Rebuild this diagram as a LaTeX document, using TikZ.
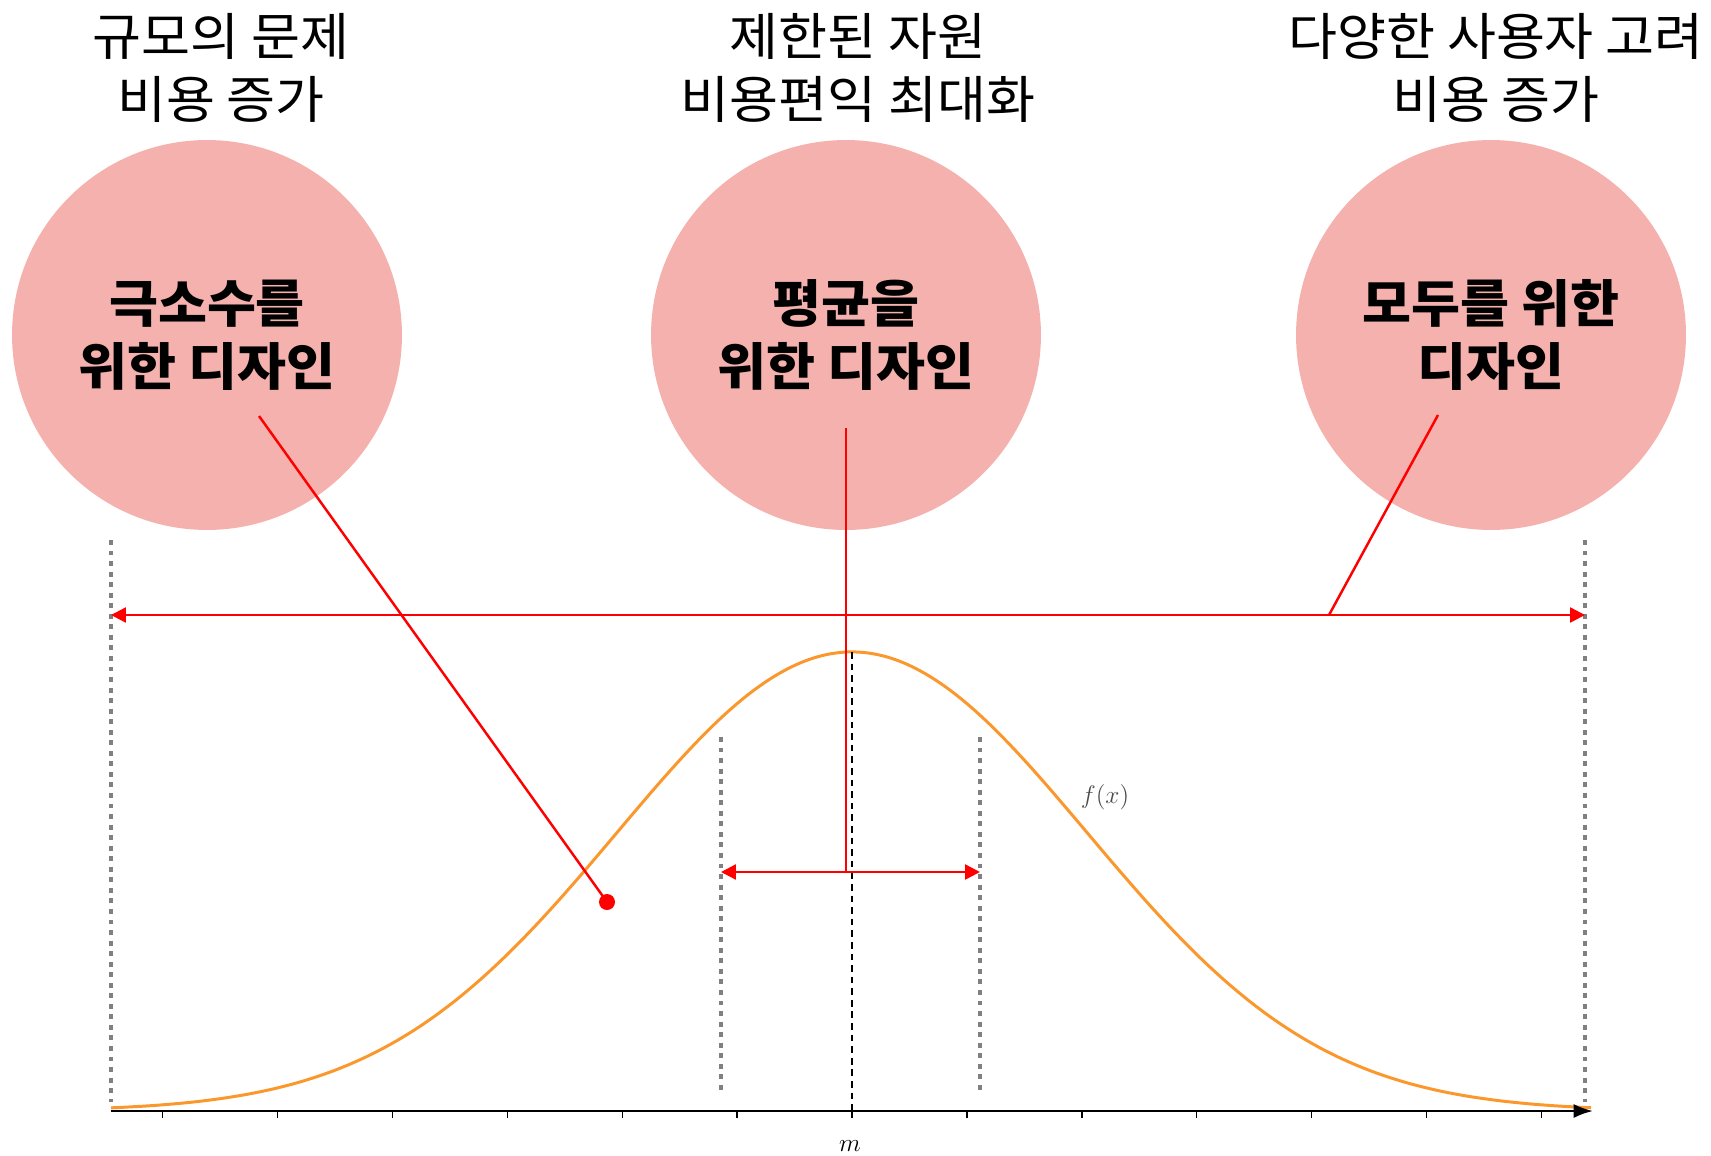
\documentclass[tikz,border=0pt]{standalone}
\usepackage{fontspec}
\usepackage{tikz}
\usetikzlibrary{arrows.meta}
\newfontfamily\krfont[FakeStretch=1.045]{Noto Sans CJK KR}
\definecolor{circpink}{RGB}{245,177,173}
\definecolor{curveorange}{RGB}{250,152,45}
\definecolor{dotgray}{RGB}{128,128,128}

\begin{document}
\begin{tikzpicture}[x=0.02cm, y=-0.02cm]
        \tikzset{
          DesignCircle/.style = {circle, fill=circpink, minimum size=7.8cm, inner sep=0pt,
                                 align=center, font=\krfont\bfseries\fontsize{29}{36}\selectfont},
          CostNote/.style = {align=center, font=\krfont\fontsize{29}{36}\selectfont},
          RangeEdge/.style = {dotgray, line width=2.8pt, dash pattern=on 2.8pt off 3.2pt},
          RedLine/.style = {red, line width=1.4pt},
          RedRange/.style = {RedLine, {Triangle[length=8.5pt,width=8.5pt]}-{Triangle[length=8.5pt,width=8.5pt]}}
        }
        \useasboundingbox (0,0) rectangle (1711,1156);
        \node[CostNote] (noteMin) at (221,68) {규모의 문제\\비용 증가};
        \node[CostNote] (noteAvg) at (858,68) {제한된 자원\\비용편익 최대화};
        \node[CostNote] (noteAll) at (1496,68) {다양한 사용자 고려\\비용 증가};
        \node[DesignCircle] (circMin) at (207,335) {극소수를\\위한 디자인};
        \node[DesignCircle] (circAvg) at (846,335) {평균을\\위한 디자인};
        \node[DesignCircle] (circAll) at (1491,335) {모두를 위한\\디자인};
        % normal curve and axis
        \coordinate (axL) at (111,1111);
        \coordinate (axR) at (1593,1111);
        \draw[curveorange, line width=1.7pt] plot[domain=111:1591, samples=200, smooth]
          (\x, {1111-459*exp(-0.5*((\x-852)/235)^2)});
        \draw[line width=1.4pt, -{Latex[length=11pt,width=8pt]}] (axL) -- (axR);
        \foreach \k in {-6,...,6}
          \draw[line width=0.8pt] (852+\k*114.9,1111) -- ++(0,7);
        \coordinate (peak) at (852,652);
        \coordinate (mBase) at (852,1111);
        \draw[line width=0.9pt, dash pattern=on 3.8pt off 2.8pt] (peak) -- (mBase);
        \node[font=\fontsize{15}{18}\selectfont] (mLabel) at (850,1146) {$m$};
        \node[font=\fontsize{15}{18}\selectfont, text=black!70] (fLabel) at (1105,797) {$f(x)$};
        % range limits
        \coordinate (outLt) at (111,540);  \coordinate (outLb) at (111,1102);
        \coordinate (outRt) at (1585,540); \coordinate (outRb) at (1585,1102);
        \coordinate (inLt) at (721,737);   \coordinate (inLb) at (721,1091);
        \coordinate (inRt) at (980,737);   \coordinate (inRb) at (980,1091);
        \draw[RangeEdge] (outLt) -- (outLb);
        \draw[RangeEdge] (outRt) -- (outRb);
        \draw[RangeEdge] (inLt) -- (inLb);
        \draw[RangeEdge] (inRt) -- (inRb);
        \coordinate (outL) at (111,615); \coordinate (outR) at (1585,615);
        \coordinate (inL) at (721,872);  \coordinate (inR) at (980,872);
        \draw[RedRange] (outL) -- (outR);
        \draw[RedRange] (inL) -- (inR);
        % pointers
        \node[circle, fill=red, minimum size=0.32cm, inner sep=0pt] (dotMin) at (607,902) {};
        \coordinate (fromMin) at (259,416);
        \coordinate (fromAvg) at (846,428);
        \coordinate (toAvg) at (846,872);
        \coordinate (fromAll) at (1438,415);
        \coordinate (toAll) at (1329,615);
        \draw[RedLine] (fromMin) -- (dotMin.center);
        \draw[RedLine] (fromAvg) -- (toAvg);
        \draw[RedLine] (fromAll) -- (toAll);
\end{tikzpicture}
\end{document}
